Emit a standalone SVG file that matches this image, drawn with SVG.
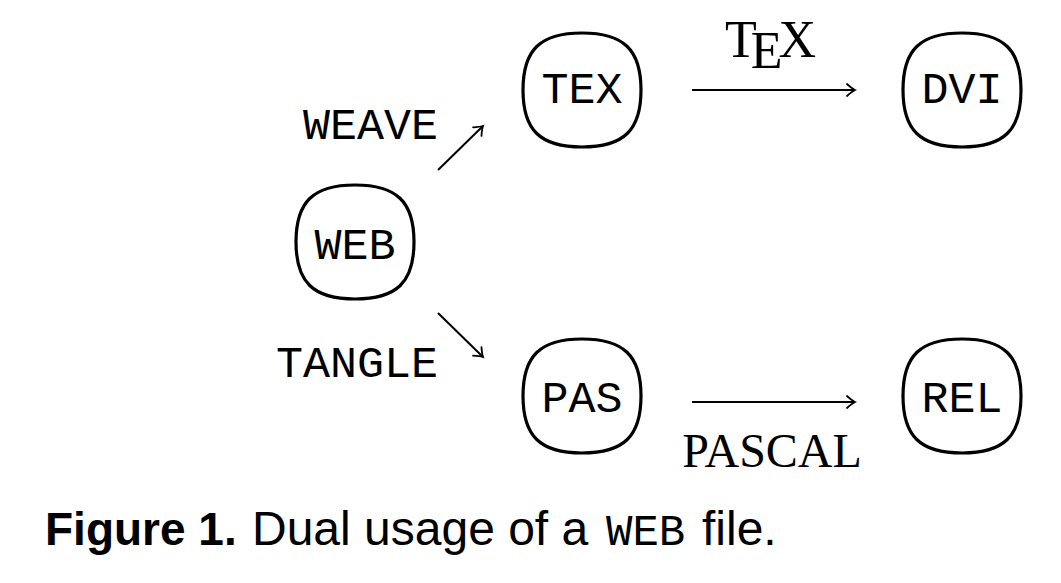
<svg xmlns="http://www.w3.org/2000/svg" width="1061" height="583" viewBox="0 0 1061 583">
<style>
.node{fill:none;stroke:#000;stroke-width:3.2}
.tt{font-family:"Liberation Mono","DejaVu Sans Mono",monospace;font-size:45px;fill:#000}
.lbl{text-anchor:middle}
.rm{font-family:"Liberation Serif","DejaVu Serif",serif;font-size:48px;fill:#000}
.sf{font-family:"Liberation Sans","DejaVu Sans",sans-serif;font-size:46px;fill:#000}
.edge{fill:none;stroke:#000;stroke-width:2;marker-end:url(#ah)}
</style>
<defs>
<path id="sq" d="M0,-57 C42,-57 59,-40 59,0 C59,40 42,57 0,57 C-42,57 -59,40 -59,0 C-59,-40 -42,-57 0,-57 Z"/>
<marker id="ah" markerUnits="userSpaceOnUse" markerWidth="20" markerHeight="20" viewBox="-12 -10 14 20" refX="0" refY="0" orient="auto">
<path d="M-8,-6 Q-3,-1.5 0,0 Q-3,1.5 -8,6" fill="none" stroke="#000" stroke-width="1.8" stroke-linecap="round"/>
</marker>
</defs>
<rect width="1061" height="583" fill="#fff"/>
<g id="node-web"><use href="#sq" class="node" transform="translate(355,242)"/><text class="tt lbl" x="355" y="259">WEB</text></g>
<g id="node-tex"><use href="#sq" class="node" transform="translate(582,90)"/><text class="tt lbl" x="582" y="103">TEX</text></g>
<g id="node-dvi"><use href="#sq" class="node" transform="translate(962,90)"/><text class="tt lbl" x="962" y="103">DVI</text></g>
<g id="node-pas"><use href="#sq" class="node" transform="translate(582,396)"/><text class="tt lbl" x="582" y="412">PAS</text></g>
<g id="node-rel"><use href="#sq" class="node" transform="translate(962,396)"/><text class="tt lbl" x="962" y="412">REL</text></g>
<g id="connectors">
<line class="edge" x1="438" y1="170" x2="483" y2="126"/>
<line class="edge" x1="438" y1="313" x2="483" y2="357"/>
<line class="edge" x1="692" y1="90" x2="855" y2="90"/>
<line class="edge" x1="692" y1="402" x2="855" y2="402"/>
<text class="tt" x="438" y="139" text-anchor="end">WEAVE</text>
<text class="tt" x="438" y="377" text-anchor="end">TANGLE</text>
<text class="rm" x="725" y="57" style="font-size:52px">T<tspan dx="-6" dy="11">E</tspan><tspan dx="-4" dy="-11">X</tspan></text>
<text class="rm" x="772" y="467" text-anchor="middle">PASCAL</text>
</g>
<g id="caption">
<text class="sf" x="45" y="545" font-weight="bold">Figure 1.</text>
<text class="sf" x="252" y="545" style="font-size:48px">Dual usage of a</text>
<text class="tt" x="606" y="545" style="font-size:44px">WEB</text>
<text class="sf" x="702" y="545" style="font-size:48px">file.</text>
</g>
</svg>
